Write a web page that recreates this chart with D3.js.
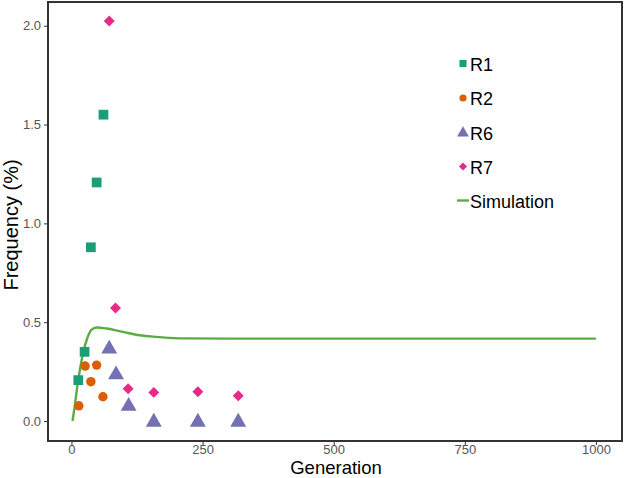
<!DOCTYPE html>
<html><head><meta charset="utf-8">
<script src="https://cdn.jsdelivr.net/npm/d3@7"></script>
<style>body{margin:0;background:#fff}svg{display:block}text{font-family:"Liberation Sans",Arial,sans-serif}</style>
</head><body><svg id="c" width="624" height="478"></svg>
<script>
const r1Gen = [13, 25, 37, 48, 61];
const r1Val = [0.207, 0.35, 0.879, 1.207, 1.55];
const r2Gen = [14, 26, 37, 48, 60];
const r2Val = [0.077, 0.278, 0.199, 0.283, 0.123];
const r6Gen = [72, 85, 109, 157, 241, 318];
const r6Val = [0.37, 0.24, 0.08, 0.0, 0.0, 0.0];
const r7Gen = [72, 84, 108, 157, 241, 318];
const r7Val = [2.024, 0.572, 0.163, 0.145, 0.148, 0.128];
const simGen = [2, 7, 11, 16, 22, 29, 38, 48, 67, 98, 130, 162, 219, 300, 400, 500, 600, 700, 800, 900, 1000];
const simVal = [0.0, 0.09, 0.173, 0.258, 0.342, 0.41, 0.461, 0.473, 0.468, 0.451, 0.434, 0.426, 0.418, 0.417, 0.417, 0.417, 0.417, 0.417, 0.417, 0.417, 0.417];
const xTicks = [0, 250, 500, 750, 1000];
const yTicks = [0.0, 0.5, 1.0, 1.5, 2.0];
const seriesNames = ["R1", "R2", "R6", "R7", "Simulation"];
const colors = ["#1b9e77", "#d95f02", "#7570b3", "#e7298a", "#5aac44"];

const svg = d3.select("#c");
const L = 48, R = 622, T = 2, B = 441;
const x = d3.scaleLinear().domain([-44.75, 1049.75]).range([L, R]);
const y = d3.scaleLinear().domain([-0.101, 2.12]).range([B, T]);

svg.append("rect").attr("x", L).attr("y", T).attr("width", R - L).attr("height", B - T)
  .attr("fill", "#fff").attr("stroke", "#333").attr("stroke-width", 2);

const xAxis = svg.append("g").attr("transform", `translate(0,${B})`)
  .call(d3.axisBottom(x).tickValues(xTicks).tickSize(4).tickPadding(0).tickFormat(d3.format("d")));
const yAxis = svg.append("g").attr("transform", `translate(${L},0)`)
  .call(d3.axisLeft(y).tickValues(yTicks).tickSize(4).tickPadding(3).tickFormat(d3.format(".1f")));
[xAxis, yAxis].forEach(g => {
  g.select(".domain").remove();
  g.selectAll(".tick line").attr("stroke", "#333").attr("stroke-width", 1);
  g.selectAll(".tick text").attr("fill", "#555").style("font-size", "13px").style("font-family", "Liberation Sans, Arial, sans-serif");
});

svg.append("text").attr("x", 336).attr("y", 474).attr("text-anchor", "middle")
  .style("font-size", "18.5px").attr("fill", "#000").text("Generation");
svg.append("text").attr("transform", `translate(18,225) rotate(-90)`).attr("text-anchor", "middle")
  .style("font-size", "20px").attr("fill", "#000").text("Frequency (%)");

const line = d3.line().x(d => x(d[0])).y(d => y(d[1])).curve(d3.curveMonotoneX);
svg.append("path").datum(simGen.map((g, i) => [g, simVal[i]]))
  .attr("d", line).attr("fill", "none").attr("stroke", colors[4]).attr("stroke-width", 2.4);

const shapes = [d3.symbolSquare, d3.symbolCircle, d3.symbolTriangle, d3.symbolSquare];
const rot = [0, 0, 0, 45];
const sizes = [95, 70, 110, 60];
const series = [[r1Gen, r1Val], [r2Gen, r2Val], [r6Gen, r6Val], [r7Gen, r7Val]];
series.forEach((s, k) => {
  const sym = d3.symbol().type(shapes[k]).size(sizes[k]);
  svg.append("g").selectAll("path").data(s[0].map((g, i) => [g, s[1][i]])).join("path")
    .attr("transform", d => `translate(${x(d[0])},${y(d[1]) + (k === 2 ? 1 : 0)}) rotate(${rot[k]})`)
    .attr("d", sym).attr("fill", colors[k]);
});

const legY = [63.5, 98, 132.5, 166.5, 200.5];
const lg = svg.append("g");
seriesNames.forEach((n, i) => {
  if (i < 4) {
    lg.append("path").attr("transform", `translate(463,${legY[i] + (i === 2 ? 0.5 : 0)}) rotate(${rot[i]})`)
      .attr("d", d3.symbol().type(shapes[i]).size([50, 40, 60, 32][i])).attr("fill", colors[i]);
  } else {
    lg.append("line").attr("x1", 457).attr("x2", 469).attr("y1", legY[i]).attr("y2", legY[i])
      .attr("stroke", colors[4]).attr("stroke-width", 2.4);
  }
  lg.append("text").attr("x", 470).attr("y", legY[i] + 7).style("font-size", "18px").attr("fill", "#000").text(n);
});
</script></body></html>
